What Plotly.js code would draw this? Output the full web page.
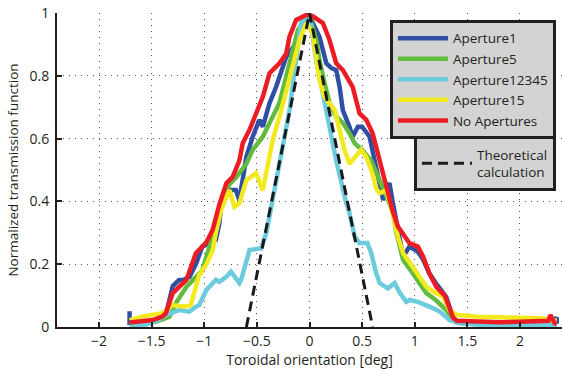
<!DOCTYPE html>
<html>
<head>
<meta charset="utf-8">
<script src="https://cdn.plot.ly/plotly-3.0.1.min.js"></script>
<style>html,body{margin:0;padding:0;background:#fff;}#chart{width:563px;height:372px;}</style>
</head>
<body>
<div id="chart"></div>
<script>
// Aperture1 (blue)
const apt1X = [-1.71, -1.71, -1.6, -1.49, -1.4, -1.35, -1.3, -1.24, -1.2, -1.14, -1.08, -1.02, -0.95, -0.89, -0.857, -0.83, -0.76, -0.7, -0.667, -0.6, -0.54, -0.476, -0.444, -0.38, -0.317, -0.222, -0.127, -0.063, -0.019, 0, 0.095, 0.16, 0.206, 0.254, 0.286, 0.317, 0.38, 0.41, 0.46, 0.5, 0.571, 0.62, 0.667, 0.7, 0.73, 0.76, 0.79, 0.84, 0.89, 0.95, 0.98, 1.03, 1.08, 1.14, 1.2, 1.24, 1.3, 1.365, 1.4, 1.5, 1.7, 1.9, 2.1, 2.3, 2.35, 2.35];
const apt1Y = [0.05, 0.013, 0.016, 0.02, 0.03, 0.06, 0.13, 0.15, 0.15, 0.16, 0.2, 0.256, 0.267, 0.277, 0.33, 0.415, 0.436, 0.436, 0.404, 0.542, 0.606, 0.66, 0.638, 0.713, 0.765, 0.86, 0.904, 0.946, 0.978, 0.99, 0.924, 0.84, 0.825, 0.818, 0.765, 0.69, 0.638, 0.606, 0.638, 0.638, 0.606, 0.53, 0.447, 0.404, 0.44, 0.458, 0.4, 0.31, 0.224, 0.256, 0.25, 0.24, 0.215, 0.17, 0.14, 0.12, 0.095, 0.03, 0.015, 0.012, 0.012, 0.014, 0.012, 0.012, 0.03, 0.01];

// Aperture5 (green)
const apt5X = [-1.71, -1.6, -1.46, -1.33, -1.27, -1.17, -1.08, -1.02, -0.95, -0.89, -0.83, -0.76, -0.7, -0.6, -0.54, -0.444, -0.35, -0.286, -0.222, -0.16, -0.11, -0.048, 0, 0.064, 0.095, 0.143, 0.19, 0.254, 0.317, 0.38, 0.43, 0.5, 0.587, 0.65, 0.73, 0.79, 0.826, 0.89, 0.98, 1.05, 1.11, 1.2, 1.3, 1.365, 1.45, 1.7, 2.0, 2.35];
const apt5Y = [0.01, 0.012, 0.017, 0.033, 0.076, 0.128, 0.16, 0.18, 0.256, 0.32, 0.404, 0.455, 0.475, 0.52, 0.564, 0.606, 0.67, 0.713, 0.797, 0.882, 0.946, 0.978, 0.99, 0.914, 0.85, 0.777, 0.713, 0.67, 0.65, 0.617, 0.585, 0.564, 0.53, 0.48, 0.415, 0.37, 0.3, 0.213, 0.172, 0.14, 0.108, 0.086, 0.054, 0.022, 0.012, 0.01, 0.01, 0.01];

// Aperture12345 (cyan)
const apt12345X = [-1.71, -1.55, -1.45, -1.365, -1.238, -1.143, -1.08, -1.048, -0.98, -0.89, -0.857, -0.79, -0.746, -0.667, -0.65, -0.57, -0.476, -0.46, -0.41, -0.317, -0.19, -0.08, 0, 0.064, 0.16, 0.254, 0.35, 0.38, 0.43, 0.476, 0.55, 0.587, 0.635, 0.667, 0.745, 0.81, 0.857, 0.92, 0.952, 1.03, 1.14, 1.24, 1.33, 1.43, 1.6, 1.9, 2.2, 2.35];
const apt12345Y = [0.005, 0.008, 0.02, 0.038, 0.054, 0.049, 0.065, 0.07, 0.118, 0.15, 0.144, 0.16, 0.176, 0.14, 0.15, 0.245, 0.25, 0.25, 0.3, 0.468, 0.69, 0.97, 0.99, 0.85, 0.69, 0.53, 0.394, 0.363, 0.288, 0.267, 0.268, 0.235, 0.17, 0.14, 0.123, 0.14, 0.11, 0.08, 0.086, 0.08, 0.065, 0.049, 0.022, 0.012, 0.007, 0.005, 0.006, 0.006];

// Aperture15 (yellow)
const apt15X = [-1.71, -1.59, -1.4, -1.3, -1.2, -1.13, -1.08, -1.05, -0.98, -0.92, -0.89, -0.84, -0.79, -0.76, -0.714, -0.667, -0.6, -0.508, -0.444, -0.4, -0.35, -0.286, -0.222, -0.16, -0.095, -0.03, 0.03, 0.064, 0.095, 0.143, 0.19, 0.24, 0.286, 0.333, 0.38, 0.43, 0.49, 0.54, 0.587, 0.635, 0.667, 0.73, 0.79, 0.84, 0.89, 0.98, 1.05, 1.11, 1.2, 1.27, 1.33, 1.4, 1.6, 1.9, 2.2, 2.35];
const apt15Y = [0.022, 0.033, 0.044, 0.07, 0.065, 0.07, 0.128, 0.165, 0.2, 0.245, 0.3, 0.373, 0.415, 0.436, 0.383, 0.394, 0.468, 0.49, 0.436, 0.52, 0.595, 0.67, 0.745, 0.83, 0.914, 0.968, 0.935, 0.86, 0.787, 0.733, 0.713, 0.69, 0.627, 0.564, 0.52, 0.542, 0.564, 0.542, 0.5, 0.44, 0.426, 0.436, 0.363, 0.288, 0.235, 0.192, 0.16, 0.128, 0.108, 0.097, 0.054, 0.038, 0.033, 0.03, 0.028, 0.02];

// No Apertures (red)
const noAptX = [-1.71, -1.49, -1.4, -1.365, -1.3, -1.24, -1.17, -1.08, -0.98, -0.92, -0.857, -0.79, -0.73, -0.667, -0.635, -0.571, -0.508, -0.444, -0.38, -0.286, -0.222, -0.19, -0.127, -0.03, 0.03, 0.127, 0.19, 0.254, 0.317, 0.41, 0.476, 0.54, 0.6, 0.667, 0.73, 0.79, 0.84, 0.92, 0.95, 1.03, 1.08, 1.14, 1.206, 1.286, 1.33, 1.365, 1.4, 1.6, 1.8, 2.0, 2.2, 2.27, 2.29, 2.33, 2.35];
const noAptY = [0.014, 0.022, 0.033, 0.044, 0.108, 0.128, 0.15, 0.235, 0.27, 0.31, 0.39, 0.458, 0.478, 0.53, 0.585, 0.627, 0.68, 0.733, 0.808, 0.84, 0.87, 0.925, 0.978, 0.994, 0.99, 0.968, 0.914, 0.84, 0.818, 0.765, 0.68, 0.66, 0.617, 0.53, 0.458, 0.37, 0.32, 0.277, 0.267, 0.256, 0.224, 0.17, 0.128, 0.1, 0.06, 0.03, 0.02, 0.016, 0.015, 0.017, 0.018, 0.02, 0.038, 0.012, 0.01];

// Theoretical calculation (black dashed)
const theoryX = [-0.6, 0, 0.6];
const theoryY = [0, 1, 0];

const xTicks = [-2, -1.5, -1, -0.5, 0, 0.5, 1, 1.5, 2];
const yTicks = [0, 0.2, 0.4, 0.6, 0.8, 1];

const FONT = '"Open Sans", sans-serif';
function series(x, y, name, color) {
  return {x: x, y: y, name: name, type: 'scatter', mode: 'lines',
          line: {color: color, width: 4.5}, legend: 'legend'};
}
const data = [
  series(apt1X, apt1Y, 'Aperture1', '#2f4fa4'),
  series(apt5X, apt5Y, 'Aperture5', '#62bb3f'),
  series(apt12345X, apt12345Y, 'Aperture12345', '#6ccbdc'),
  series(apt15X, apt15Y, 'Aperture15', '#f2ea1e'),
  series(noAptX, noAptY, 'No Apertures', '#ec1c24'),
  {x: theoryX, y: theoryY, name: 'Theoretical<br>calculation', type: 'scatter', mode: 'lines',
   line: {color: '#1a1a1a', width: 3, dash: '10px,6px'}, legend: 'legend2'}
];

const axisCommon = {
  showline: true, linecolor: '#231f20', linewidth: 2,
  ticks: 'inside', ticklen: 5, tickwidth: 2, tickcolor: '#231f20',
  showgrid: true, gridcolor: '#555', gridwidth: 1, griddash: '1px,5px',
  zeroline: false, tickfont: {family: FONT, size: 14, color: '#231f20'}
};

const layout = {
  width: 563, height: 372,
  margin: {l: 57, r: 1, t: 13, b: 45},
  paper_bgcolor: '#fff', plot_bgcolor: '#fff',
  font: {family: FONT, color: '#231f20'},
  xaxis: Object.assign({}, axisCommon, {
    range: [-2.4, 2.4], tickvals: xTicks,
    title: {text: 'Toroidal orientation [deg]', font: {family: FONT, size: 14, color: '#231f20'}, standoff: 3}
  }),
  yaxis: Object.assign({}, axisCommon, {
    range: [0, 1], tickvals: yTicks, ticklabelstandoff: 3,
    title: {text: 'Normalized transmission function', font: {family: FONT, size: 13.5, color: '#231f20'}, standoff: 8}
  }),
  legend: {
    x: 0.988, xanchor: 'right', y: 0.978, yanchor: 'top',
    bgcolor: '#d3d3d3', bordercolor: '#231f20', borderwidth: 3,
    font: {family: FONT, size: 13.5, color: '#231f20'}, itemwidth: 50, tracegroupgap: 0
  },
  legend2: {
    x: 0.988, xanchor: 'right', y: 0.608, yanchor: 'top',
    bgcolor: '#d3d3d3', bordercolor: '#231f20', borderwidth: 3,
    font: {family: FONT, size: 13.5, color: '#231f20'}, itemwidth: 50
  },
  showlegend: true
};

Plotly.newPlot('chart', data, layout, {displayModeBar: false, staticPlot: true});
</script>
</body>
</html>
